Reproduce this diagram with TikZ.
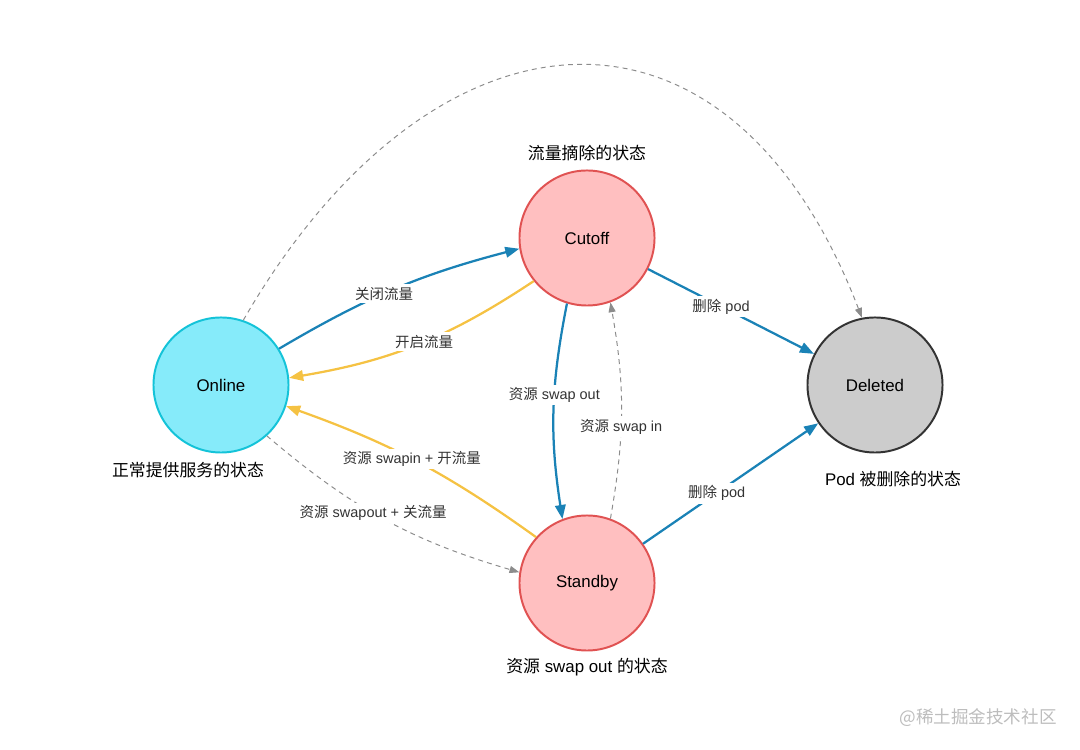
\documentclass[tikz,border=0pt]{standalone}
\usepackage{fontspec}
\setmainfont{Liberation Sans}
\newfontfamily\cjk{Noto Sans CJK SC}
\usepackage{xcolor}
\usetikzlibrary{arrows.meta}

\definecolor{onfill}{HTML}{86EBFA}
\definecolor{ondraw}{HTML}{14C3D8}
\definecolor{pinkfill}{HTML}{FFBFC0}
\definecolor{reddraw}{HTML}{E05252}
\definecolor{grayfill}{HTML}{CCCCCC}
\definecolor{darkdraw}{HTML}{333333}
\definecolor{blueline}{HTML}{1A82B6}
\definecolor{yellowline}{HTML}{F5C243}
\definecolor{dashline}{HTML}{8C8C8C}
\definecolor{labeltext}{HTML}{333333}
\definecolor{markgray}{HTML}{BDBDBD}

\begin{document}
\begin{tikzpicture}[x=0.025cm, y=0.025cm,
  state/.style={circle, line width=1.4pt, minimum size=3.375cm, inner sep=0pt, font=\fontsize{12}{14}\selectfont},
  lbl/.style={fill=white, text=labeltext, inner sep=2pt, font=\fontsize{10.3}{12}\selectfont},
  caption/.style={font=\fontsize{12}{14}\selectfont},
  bluearr/.style={draw=blueline, line width=1.6pt, -{Triangle[length=10pt,width=7.5pt]}},
  yellowarr/.style={draw=yellowline, line width=1.6pt, -{Triangle[length=10pt,width=7.5pt]}},
  grayarr/.style={draw=dashline, line width=0.7pt, dash pattern=on 3.5pt off 3pt, -{Triangle[length=7pt,width=5pt]}}]
  \useasboundingbox (0,0) rectangle (1080,750);
  % states
  \node[state, fill=onfill, draw=ondraw] (on) at (221,365) {Online};
  \node[state, fill=pinkfill, draw=reddraw] (cut) at (587,512) {Cutoff};
  \node[state, fill=pinkfill, draw=reddraw] (sb) at (587,167) {Standby};
  \node[state, fill=grayfill, draw=darkdraw] (del) at (875,365) {Deleted};
  % captions
  \node[caption] (cuttext) at (587,597) {\cjk 流量摘除的状态};
  \node[caption] (ontext) at (188,280) {\cjk 正常提供服务的状态};
  \node[caption] (deltext) at (893,271) {Pod {\cjk 被删除的状态}};
  \node[caption] (sbtext) at (587,83) {{\cjk 资源} swap out {\cjk 的状态}};
  % transitions
  \draw[bluearr] (on.32) to[bend left=8] node[lbl, pos=0.45] {\cjk 关闭流量} (cut.189);
  \draw[yellowarr] (cut.219) to[bend left=12] node[lbl, pos=0.47] {\cjk 开启流量} (on.6);
  \draw[bluearr] (cut.-27) -- node[lbl, pos=0.44] {{\cjk 删除} pod} (del.153);
  \draw[bluearr] (sb.35) -- node[lbl, pos=0.42] {{\cjk 删除} pod} (del.214);
  \draw[bluearr] (cut.253) to[bend right=10] node[lbl, pos=0.42] {{\cjk 资源} swap out} (sb.111);
  \draw[grayarr] (sb.70) to[bend right=10] node[lbl, pos=0.42] {{\cjk 资源} swap in} (cut.290);
  \draw[yellowarr] (sb.138) to[bend right=8] node[lbl, pos=0.52] {{\cjk 资源} swapin + {\cjk 开流量}} (on.-18);
  \draw[grayarr] (on.-48) to[bend right=12] node[lbl, pos=0.45] {{\cjk 资源} swapout + {\cjk 关流量}} (sb.171);
  \draw[grayarr] (on.71) to[out=60, in=111, looseness=1.55] (del.101);
  % watermark
  \node[font=\fontsize{12.5}{14}\selectfont\cjk, text=markgray] (mark) at (978,32) {@稀土掘金技术社区};
\end{tikzpicture}
\end{document}
